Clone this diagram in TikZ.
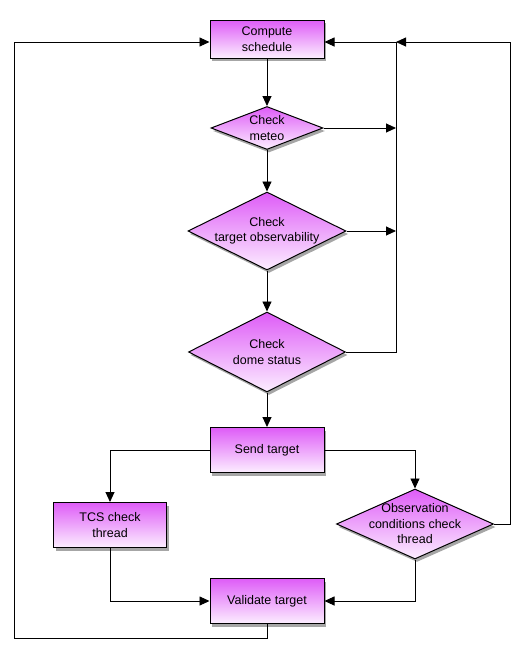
\documentclass[tikz,border=0pt]{standalone}
\usepackage{fontspec}
\setmainfont{Liberation Sans}
\usetikzlibrary{shapes.geometric,arrows.meta,shadows}
\definecolor{topc}{RGB}{222,92,247}
\definecolor{botc}{RGB}{252,238,255}
\newcommand{\dfont}{\fontsize{12.5}{15.5}\selectfont}
\tikzset{
  base/.style={draw=black, line width=1pt, top color=topc, bottom color=botc,
    drop shadow={shadow xshift=2pt, shadow yshift=-3pt, opacity=0.35, fill=black},
    font=\dfont, align=center, inner sep=0pt},
  boxnode/.style={base, rectangle},
  dianode/.style={base, diamond},
  conn/.style={line width=0.9pt, draw=black},
  arr/.style={conn, -{Triangle[length=10pt, width=9pt]}},
}
\begin{document}
\begin{tikzpicture}[x=1pt, y=-1pt]
\useasboundingbox (0,0) rectangle (522,654);
% nodes
\node[boxnode, minimum width=114pt, minimum height=38pt] (cs) at (267,39) {Compute\\schedule};
\node[dianode, minimum width=112pt, minimum height=43pt, label={[font=\dfont, align=center]center:Check\\meteo}] (cm) at (267,128) {};
\node[dianode, minimum width=158pt, minimum height=78pt, label={[font=\dfont, align=center]center:Check\\target observability}] (ct) at (267,231) {};
\node[dianode, minimum width=157pt, minimum height=80pt, label={[font=\dfont, align=center]center:Check\\dome status}] (cd) at (267,352) {};
\node[boxnode, minimum width=114pt, minimum height=45pt] (st) at (267,450) {Send target};
\node[boxnode, minimum width=113pt, minimum height=45pt] (tcs) at (110,525) {TCS check\\thread};
\node[dianode, minimum width=157pt, minimum height=70pt, label={[font=\dfont, align=center]center:Observation\\conditions check\\thread}] (oc) at (415,524) {};
\node[boxnode, minimum width=114pt, minimum height=45pt] (vt) at (267,601) {Validate target};
% helper coordinates
\coordinate (rtop) at (396,42);
\coordinate (rmet) at (396,128);
\coordinate (rtob) at (396,231);
\coordinate (rdom) at (396,352);
\coordinate (farr) at (510,42);
\coordinate (ltop) at (14,42);
\coordinate (lbot) at (14,638);
% main flow
\draw[arr] (cs) -- (cm);
\draw[arr] (cm) -- (ct);
\draw[arr] (ct) -- (cd);
\draw[arr] (cd) -- (st);
\draw[arr] (st.west) -| (tcs.north);
\draw[arr] (st.east) -| (oc.north);
\draw[arr] (tcs.south) |- (vt.west);
\draw[arr] (oc.south) |- (vt.east);
% loop back left
\draw[arr] (vt.south) |- (lbot) -- (ltop) -- (cs.west |- ltop);
% right feedback
\draw[arr] (cd.east) -- (rdom) -- (rtop) -- (cs.east |- rtop);
\draw[arr] (cm.east) -- (rmet);
\draw[arr] (ct.east) -- (rtob);
\draw[arr] (oc.east) -| (farr) -- (rtop);
\end{tikzpicture}
\end{document}
